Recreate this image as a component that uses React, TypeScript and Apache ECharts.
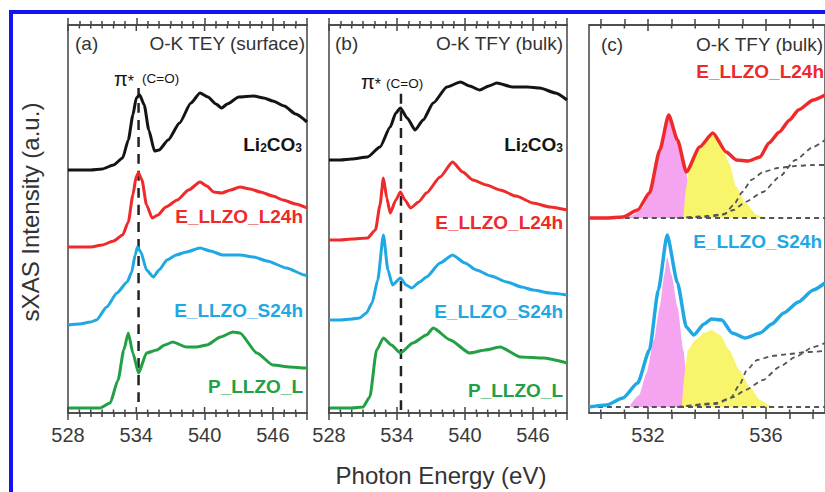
import React, { useEffect, useRef } from "react";
import * as echarts from "echarts";

// ---------- data (x: photon energy eV, y: intensity a.u., curves offset) ----------
const rangeAB = [528, 549];
const tickStepAB = 6;
const ticksAB = [528, 534, 540, 546];
const minorAB = [529, 530, 531, 532, 533, 535, 536, 537, 538, 539, 541, 542, 543, 544, 545, 547, 548];
const rangeC = [530, 538];
const ticksC = [532, 536];
const minorC = [530.4, 531.2, 532.8, 533.6, 534.4, 535.2, 536.8, 537.6];

const blackA = [[528,242],[529,242],[530,242],[531,243],[532,247],[532.8,254],[533.3,272],[533.7,297],[534.0,314],[534.3,317],[534.7,307],[535.1,282],[535.6,261],[536.0,262],[536.8,272],[537.8,289],[538.8,309],[539.6,319],[540.3,315],[541.0,308],[541.5,304],[542.0,308],[543.0,315],[544.3,316],[545.2,314],[546.0,311],[547.0,306],[548.0,298],[549.0,290]];
const redA = [[528,165],[529,165],[530,165],[531,167],[532,171],[532.8,177],[533.3,190],[533.7,217],[534.0,236],[534.2,239],[534.5,232],[534.9,207],[535.4,194],[535.9,197],[536.6,205],[537.6,212],[538.6,222],[539.6,230],[540.2,226],[540.8,220],[541.5,219],[542.3,222],[543.1,225],[544.0,223],[544.9,220],[546.0,216],[546.9,212],[548.0,208],[549.0,204]];
const blueA = [[528,87],[529,88],[530,90],[530.5,92],[531.4,105],[532.3,119],[533.2,130],[533.6,140],[533.9,157],[534.1,165],[534.4,160],[534.9,142],[535.5,135],[536.0,142],[536.7,152],[537.5,157],[538.4,160],[539.6,164],[540.5,161],[541.6,157],[543.1,157],[544.3,155],[545.5,151],[547.2,144],[548.8,137],[549,136]];
const greenA = [[528,4],[529,4],[530,4],[530.8,4],[531.7,9],[532.4,32],[532.9,62],[533.3,79],[533.7,59],[534.2,39],[534.9,59],[535.8,62],[536.5,67],[537.2,70],[538.4,65],[539.3,65],[540.2,67],[541.4,75],[542.5,80],[543.1,79],[544.6,59],[546.0,47],[547.5,45],[548.8,44],[549,44]];

const blackB = [[528,252],[529,252],[530,253],[531.4,255],[532.5,265],[533.4,285],[533.9,299],[534.3,304],[534.9,294],[535.6,282],[536.3,292],[537.2,309],[538.4,325],[539.6,330],[540.4,326],[541.3,322],[542.1,326],[542.8,329],[544.2,325],[545.5,325],[546.6,324],[548.0,319],[549.0,312]];
const redB = [[528,172],[529,172],[530,173],[531.4,174],[532.1,182],[532.5,207],[532.8,234],[533.1,214],[533.4,199],[533.9,212],[534.3,220],[534.7,212],[535.2,204],[535.9,210],[536.6,219],[537.8,235],[538.9,250],[539.8,240],[540.7,232],[541.9,227],[543.1,222],[544.5,216],[546.0,209],[547.5,205],[549.0,202]];
const blueB = [[528,92],[529,92],[530,93],[530.7,94],[531.3,99],[531.8,109],[532.3,132],[532.8,177],[533.2,142],[533.6,127],[534.3,134],[534.8,127],[535.3,124],[536.0,130],[536.6,135],[537.8,149],[538.9,157],[540.0,149],[541.0,142],[542.3,136],[543.7,130],[545.0,125],[546.0,122],[547.5,119],[549.0,117]];
const greenB = [[528,4],[529,4],[530,4],[531.0,5],[531.6,15],[532.2,62],[532.8,74],[533.5,67],[534.3,59],[535.4,69],[536.6,77],[537.2,84],[538.7,72],[540.4,59],[541.8,62],[543.1,65],[544.9,55],[546.9,54],[549.0,49]];

const redC = [[530,194],[530.6,194],[531.15,195],[531.65,202],[532.05,219],[532.4,262],[532.7,297],[533.0,272],[533.3,240],[533.75,265],[534.2,279],[534.65,260],[535.0,252],[535.4,251],[535.8,255],[536.1,269],[536.45,280],[536.8,292],[537.1,302],[537.6,312],[538.0,317]];
const redCPink = [[531.2,194],[531.5,197],[531.8,204],[532.05,217],[532.3,247],[532.5,277],[532.7,295],[532.85,284],[533.0,268],[533.15,252],[533.3,238],[533.4,225],[533.5,194]];
const redCYellow = [[533.2,194],[533.3,225],[533.4,245],[533.6,258],[533.9,270],[534.15,277],[534.45,272],[534.75,249],[535.0,225],[535.3,209],[535.7,197],[536.0,194]];
const redCBase = [[530,194],[538,194]];
const redCFitA = [[533.0,194],[534.0,196],[534.6,198],[534.9,207],[535.2,220],[535.5,232],[535.9,240],[536.4,244],[537.0,246],[537.6,247],[538.0,247]];
const redCFitB = [[533.0,194],[534.0,195],[534.5,197],[534.9,202],[535.3,210],[535.9,220],[536.45,235],[537.0,252],[537.6,265],[538.0,272]];

const blueC = [[530,5],[530.6,7],[531.15,14],[531.65,29],[532.05,62],[532.35,122],[532.65,177],[533.0,129],[533.3,85],[533.55,77],[533.9,88],[534.15,93],[534.5,92],[534.85,79],[535.3,74],[535.8,79],[536.2,88],[536.6,99],[537.1,110],[537.6,122],[538.0,129]];
const blueCPink = [[531.4,7],[531.7,17],[531.95,39],[532.2,72],[532.4,105],[532.55,137],[532.65,155],[532.8,137],[533.0,105],[533.2,62],[533.3,39],[533.35,5]];
const blueCYellow = [[533.15,5],[533.25,40],[533.35,62],[533.6,72],[533.9,79],[534.15,82],[534.45,77],[534.75,62],[535.1,42],[535.45,25],[535.8,12],[536.1,7],[536.3,5]];
const blueCBase = [[530,5],[538,5]];
const blueCFitA = [[533.0,5],[534.3,9],[534.8,14],[535.1,27],[535.35,42],[535.7,52],[536.2,56],[536.8,58],[537.4,60],[538.0,61]];
const blueCFitB = [[533.0,5],[534.3,8],[534.9,15],[535.3,22],[535.9,32],[536.45,45],[537.0,55],[537.6,65],[538.0,69]];

const piLineA = [[534.2,10],[534.2,324]];
const piLineB = [[534.35,2],[534.35,320]];

const sampleNames = ["E_LLZO_L24h", "E_LLZO_S24h", "P_LLZO_L"];

// ---------- styles ----------
const FONT = "'Liberation Sans', Arial, Helvetica, sans-serif";
const C_BLACK = "#141414";
const C_RED = "#ee2a2a";
const C_BLUE = "#1fa8e4";
const C_GREEN = "#22a043";
const C_PINK = "#f5a4ef";
const C_YEL = "#f8f56c";
const C_FIT = "#555";
const C_TEXT = "#333";
const C_AXIS = "#444";
const Y_MIN = -1;
const Y_MAX = 387;

const lineSt = { color: C_AXIS, width: 1.5 };
const labelSt = { margin: 12, fontSize: 20, color: "#3a3a3a", fontFamily: FONT };

function axesAB(g: number) {
  const base = {
    type: "value", gridIndex: g, min: rangeAB[0], max: rangeAB[1], interval: tickStepAB,
    splitLine: { show: false }, axisLine: { show: true, onZero: false, lineStyle: lineSt },
    axisTick: { show: true, inside: false, length: 7, lineStyle: lineSt },
    minorTick: { show: true, splitNumber: 6, length: 4, lineStyle: lineSt },
  };
  return [
    { ...base, position: "bottom", axisLabel: { ...labelSt, formatter: (v: number) => (v % tickStepAB === 0 ? String(v) : "") } },
    { ...base, position: "top", axisLabel: { show: false } },
  ];
}
function axesC(g: number) {
  const base = {
    type: "value", gridIndex: g, min: rangeC[0], max: rangeC[1],
    splitLine: { show: false }, axisLine: { show: true, onZero: false, lineStyle: lineSt },
    axisTick: { show: true, inside: false, customValues: [...ticksC, ...minorC], length: 6, lineStyle: lineSt },
  };
  return [
    { ...base, position: "bottom", axisLabel: { ...labelSt, customValues: ticksC } },
    { ...base, position: "top", axisLabel: { show: false } },
  ];
}

// short tick marks on the inner side of the top and bottom frame edges
function innerTicks(g: number, major: number[], minor: number[]) {
  const data = [...major.map((v) => [v, 1]), ...minor.map((v) => [v, 0])];
  return {
    type: "custom", xAxisIndex: g * 2, yAxisIndex: g, data, silent: true, z: 6,
    renderItem: (params: any, api: any) => {
      const x = api.coord([api.value(0), 0])[0];
      const cs = params.coordSys;
      const len = api.value(1) ? 6 : 3.5;
      const style = { stroke: C_AXIS, lineWidth: 1.5, fill: null };
      const yb = cs.y + cs.height;
      return {
        type: "group",
        children: [
          { type: "line", shape: { x1: x, y1: yb, x2: x, y2: yb - len }, style },
          { type: "line", shape: { x1: x, y1: cs.y, x2: x, y2: cs.y + len }, style },
        ],
      };
    },
  };
}

function curve(g: number, data: number[][], color: string, width = 3, dashed?: number[]) {
  return {
    type: "line", xAxisIndex: g * 2, yAxisIndex: g, data, symbol: "none", smooth: 0.2, smoothMonotone: "x",
    lineStyle: { color, width, type: dashed || "solid" }, z: 5, silent: true,
  };
}
function area(g: number, data: number[][], color: string, origin: number) {
  return {
    type: "line", xAxisIndex: g * 2, yAxisIndex: g, data, symbol: "none", smooth: 0.2, smoothMonotone: "x",
    lineStyle: { width: 0 }, areaStyle: { color, opacity: 1, origin }, z: 2, silent: true,
  };
}
function txt(text: string, x: number, y: number, o: any = {}) {
  return {
    type: "text", x, y, z: 10, rotation: o.rotation || 0,
    style: {
      text, fill: o.color || C_TEXT, fontSize: o.size || 19, fontWeight: o.weight || "normal", fontFamily: FONT,
      align: o.align || "left", textAlign: o.align || "left", verticalAlign: "middle", textVerticalAlign: "middle",
    },
  };
}
function li2co3(x: number, y: number) {
  return {
    type: "text", x, y, z: 10,
    style: {
      text: "{m|Li}{s|2}{m|CO}{s|3}", align: "right", textAlign: "right", verticalAlign: "middle", textVerticalAlign: "middle",
      rich: {
        m: { fontSize: 19, fontWeight: "bold", fill: C_BLACK, fontFamily: FONT, lineHeight: 26, verticalAlign: "bottom" },
        s: { fontSize: 12, fontWeight: "bold", fill: C_BLACK, fontFamily: FONT, lineHeight: 12, verticalAlign: "bottom" },
      },
    },
  };
}
function piStar(x: number, y: number) {
  return {
    type: "text", x, y, z: 10,
    style: {
      text: "{p|π}{s|*}", align: "left", textAlign: "left", verticalAlign: "middle", textVerticalAlign: "middle",
      rich: {
        p: { fontSize: 20, fill: C_BLACK, fontFamily: FONT, lineHeight: 24, verticalAlign: "bottom" },
        s: { fontSize: 16, fill: C_BLACK, fontFamily: FONT, lineHeight: 44, verticalAlign: "bottom" },
      },
    },
  };
}

export default function App() {
  const ref = useRef<HTMLDivElement>(null);
  useEffect(() => {
    document.body.style.margin = "0";
    const chart = echarts.init(ref.current!, null, { renderer: "svg" });
    const gridBase = { top: 25, height: 388, show: true, borderColor: C_AXIS, borderWidth: 1.5, backgroundColor: "transparent" };
    const option: any = {
      animation: false,
      backgroundColor: "#fff",
      grid: [
        { ...gridBase, left: 68, width: 239 },
        { ...gridBase, left: 329, width: 238 },
        { ...gridBase, left: 589, width: 237 },
      ],
      xAxis: [...axesAB(0), ...axesAB(1), ...axesC(2)],
      yAxis: [0, 1, 2].map((g) => ({ type: "value", gridIndex: g, min: Y_MIN, max: Y_MAX, show: false })),
      series: [
        innerTicks(0, ticksAB, minorAB),
        innerTicks(1, ticksAB, minorAB),
        innerTicks(2, ticksC, minorC),
        curve(0, piLineA, "#222", 2.5, [10, 7]),
        curve(0, blackA, C_BLACK),
        curve(0, redA, C_RED),
        curve(0, blueA, C_BLUE),
        curve(0, greenA, C_GREEN),
        curve(1, piLineB, "#222", 2.5, [10, 7]),
        curve(1, blackB, C_BLACK),
        curve(1, redB, C_RED),
        curve(1, blueB, C_BLUE),
        curve(1, greenB, C_GREEN),
        area(2, redCPink, C_PINK, 194),
        { ...area(2, redCYellow, C_YEL, 194), z: 3 },
        curve(2, redCBase, C_FIT, 1.8, [5, 4]),
        curve(2, redCFitA, C_FIT, 1.8, [5, 4]),
        curve(2, redCFitB, C_FIT, 1.8, [5, 4]),
        curve(2, redC, C_RED, 3.5),
        area(2, blueCPink, C_PINK, 5),
        { ...area(2, blueCYellow, C_YEL, 5), z: 3 },
        curve(2, blueCBase, C_FIT, 1.8, [5, 4]),
        curve(2, blueCFitA, C_FIT, 1.8, [5, 4]),
        curve(2, blueCFitB, C_FIT, 1.8, [5, 4]),
        curve(2, blueC, C_BLUE, 3.5),
      ],
      graphic: [
        { type: "rect", z: 20, shape: { x: 11, y: 12, width: 900, height: 600 }, style: { fill: "none", stroke: "#1414f2", lineWidth: 4 } },
        txt("sXAS Intensity (a.u.)", 30, 212, { size: 24, align: "center", rotation: Math.PI / 2 }),
        txt("Photon Energy (eV)", 441, 475, { size: 24, align: "center" }),
        txt("(a)", 75, 43),
        txt("O-K TEY (surface)", 305, 43, { align: "right" }),
        txt("(b)", 335, 43),
        txt("O-K TFY (bulk)", 563, 43, { align: "right" }),
        txt("(c)", 601, 44),
        txt("O-K TFY (bulk)", 823, 44, { align: "right" }),
        piStar(114, 67),
        txt("(C=O)", 142, 78, { size: 13.5, color: C_BLACK }),
        piStar(361, 70),
        txt("(C=O)", 386, 83, { size: 13.5, color: C_BLACK }),
        li2co3(302, 141),
        txt(sampleNames[0], 303, 216, { align: "right", weight: "bold", color: C_RED }),
        txt(sampleNames[1], 303, 310, { align: "right", weight: "bold", color: C_BLUE }),
        txt(sampleNames[2], 303, 386, { align: "right", weight: "bold", color: C_GREEN }),
        li2co3(563, 141),
        txt(sampleNames[0], 563, 222, { align: "right", weight: "bold", color: C_RED }),
        txt(sampleNames[1], 563, 311, { align: "right", weight: "bold", color: C_BLUE }),
        txt(sampleNames[2], 563, 390, { align: "right", weight: "bold", color: C_GREEN }),
        txt(sampleNames[0], 824, 71, { align: "right", weight: "bold", color: C_RED }),
        txt(sampleNames[1], 822, 241, { align: "right", weight: "bold", color: C_BLUE }),
      ],
    };
    chart.setOption(option);
    return () => chart.dispose();
  }, []);
  return <div ref={ref} style={{ position: "fixed", left: 0, top: 0, width: 825, height: 492 }} />;
}
